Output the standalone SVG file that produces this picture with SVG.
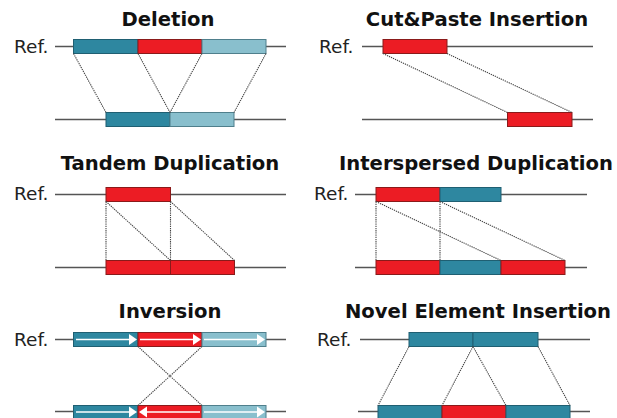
<svg xmlns="http://www.w3.org/2000/svg" width="617" height="418" viewBox="0 0 617 418">
<defs>
<style>
.title{font-family:"DejaVu Sans",Verdana,sans-serif;font-weight:bold;font-size:19.6px;fill:#111;text-anchor:middle}
.ref{font-family:"DejaVu Sans",Verdana,sans-serif;font-size:18.5px;fill:#222}
.chr{stroke:#555;stroke-width:1.3;fill:none}
.dot{stroke:#444;stroke-width:1.1;stroke-dasharray:1.3 0.9;fill:none}
.t{fill:#2e87a0;stroke:#1f5f72;stroke-width:1}
.r{fill:#ec1c24;stroke:#8a1a1a;stroke-width:1}
.l{fill:#89bfcd;stroke:#4f7f8c;stroke-width:1}
.arr{stroke:#fff;stroke-width:1.3;fill:none}
.ah{fill:#fff}
</style>
</defs>

<g id="deletion">
<text class="title" x="168" y="26">Deletion</text>
<text class="ref" x="14" y="52.5">Ref.</text>
<line class="chr" x1="55" y1="46.5" x2="286" y2="46.5"/>
<rect class="t" x="73.5" y="39.5" width="64.5" height="14"/>
<rect class="r" x="138" y="39.5" width="64" height="14"/>
<rect class="l" x="202" y="39.5" width="64" height="14"/>
<line class="chr" x1="55" y1="119.5" x2="286" y2="119.5"/>
<rect class="t" x="106" y="112.5" width="64" height="14"/>
<rect class="l" x="170" y="112.5" width="64" height="14"/>
</g>

<g id="cutpaste">
<text class="title" x="477" y="26">Cut&amp;Paste Insertion</text>
<text class="ref" x="319" y="52.5">Ref.</text>
<line class="chr" x1="362" y1="46.5" x2="593" y2="46.5"/>
<rect class="r" x="383" y="39.5" width="64" height="14"/>
<line class="chr" x1="362" y1="119.5" x2="593" y2="119.5"/>
<rect class="r" x="507.5" y="112.5" width="64.5" height="14"/>
</g>

<g id="tandem">
<text class="title" x="170" y="170">Tandem Duplication</text>
<text class="ref" x="14" y="200">Ref.</text>
<line class="chr" x1="55" y1="194.5" x2="286" y2="194.5"/>
<rect class="r" x="106" y="187.5" width="64.5" height="14"/>
<line class="chr" x1="55" y1="267.5" x2="286" y2="267.5"/>
<rect class="r" x="106" y="260.5" width="64.5" height="14"/>
<rect class="r" x="170.5" y="260.5" width="64" height="14"/>
</g>

<g id="interspersed">
<text class="title" x="476" y="170">Interspersed Duplication</text>
<text class="ref" x="314" y="200">Ref.</text>
<line class="chr" x1="355" y1="194.5" x2="587" y2="194.5"/>
<rect class="r" x="376" y="187.5" width="64" height="14"/>
<rect class="t" x="440" y="187.5" width="61" height="14"/>
<line class="chr" x1="355" y1="267.5" x2="587" y2="267.5"/>
<rect class="r" x="376" y="260.5" width="64" height="14"/>
<rect class="t" x="440" y="260.5" width="61" height="14"/>
<rect class="r" x="501" y="260.5" width="64" height="14"/>
</g>

<g id="inversion">
<text class="title" x="170" y="318">Inversion</text>
<text class="ref" x="14" y="345.5">Ref.</text>
<line class="chr" x1="55" y1="339.5" x2="286" y2="339.5"/>
<rect class="t" x="73.5" y="332.5" width="64.5" height="14"/>
<rect class="r" x="138" y="332.5" width="64" height="14"/>
<rect class="l" x="202" y="332.5" width="64" height="14"/>
<line class="arr" x1="76" y1="339.5" x2="130" y2="339.5"/>
<polygon class="ah" points="129,334 137,339.5 129,345"/>
<line class="arr" x1="140" y1="339.5" x2="194" y2="339.5"/>
<polygon class="ah" points="193,334 201,339.5 193,345"/>
<line class="arr" x1="204" y1="339.5" x2="258" y2="339.5"/>
<polygon class="ah" points="257,334 265,339.5 257,345"/>
<line class="chr" x1="55" y1="411.5" x2="286" y2="411.5"/>
<rect class="t" x="73.5" y="405.5" width="64.5" height="14"/>
<rect class="r" x="138" y="405.5" width="64" height="14"/>
<rect class="l" x="202" y="405.5" width="64" height="14"/>
<line class="arr" x1="76" y1="412" x2="130" y2="412"/>
<polygon class="ah" points="129,406.5 137,412 129,417.5"/>
<line class="arr" x1="147" y1="412" x2="200" y2="412"/>
<polygon class="ah" points="147,406.5 139,412 147,417.5"/>
<line class="arr" x1="204" y1="412" x2="258" y2="412"/>
<polygon class="ah" points="257,406.5 265,412 257,417.5"/>
</g>

<g id="novel">
<text class="title" x="478" y="318">Novel Element Insertion</text>
<text class="ref" x="317" y="345.5">Ref.</text>
<line class="chr" x1="360" y1="339.5" x2="590" y2="339.5"/>
<rect class="t" x="409" y="332.5" width="64" height="14"/>
<rect class="t" x="473" y="332.5" width="65" height="14"/>
<line class="chr" x1="358" y1="411.5" x2="590" y2="411.5"/>
<rect class="t" x="378" y="405.5" width="64" height="14"/>
<rect class="r" x="442" y="405.5" width="64" height="14"/>
<rect class="t" x="506" y="405.5" width="64" height="14"/>
</g>

<g id="connectors">
<line class="dot" x1="73.5" y1="53.5" x2="106" y2="112.5"/>
<line class="dot" x1="138" y1="53.5" x2="170" y2="112.5"/>
<line class="dot" x1="202" y1="53.5" x2="170" y2="112.5"/>
<line class="dot" x1="266" y1="53.5" x2="234" y2="112.5"/>

<line class="dot" x1="383" y1="53.5" x2="507.5" y2="112.5"/>
<line class="dot" x1="447" y1="53.5" x2="572" y2="112.5"/>

<line class="dot" x1="106" y1="201.5" x2="106" y2="260.5"/>
<line class="dot" x1="170.5" y1="201.5" x2="170.5" y2="260.5"/>
<line class="dot" x1="106" y1="201.5" x2="170.5" y2="260.5"/>
<line class="dot" x1="170.5" y1="201.5" x2="234.5" y2="260.5"/>

<line class="dot" x1="376" y1="201.5" x2="376" y2="260.5"/>
<line class="dot" x1="440" y1="201.5" x2="440" y2="260.5"/>
<line class="dot" x1="376" y1="201.5" x2="501" y2="260.5"/>
<line class="dot" x1="440" y1="201.5" x2="565" y2="260.5"/>

<line class="dot" x1="138" y1="346.5" x2="202" y2="405.5"/>
<line class="dot" x1="202" y1="346.5" x2="138" y2="405.5"/>

<line class="dot" x1="409" y1="346.5" x2="378" y2="405.5"/>
<line class="dot" x1="473" y1="346.5" x2="442" y2="405.5"/>
<line class="dot" x1="473" y1="346.5" x2="506" y2="405.5"/>
<line class="dot" x1="538" y1="346.5" x2="570" y2="405.5"/>
</g>
</svg>
